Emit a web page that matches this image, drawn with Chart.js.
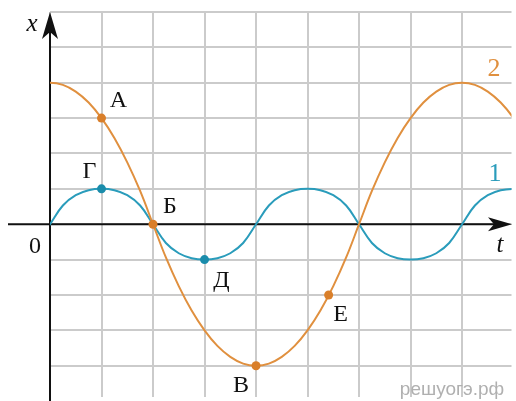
<!DOCTYPE html>
<html>
<head>
<meta charset="utf-8">
<script src="https://cdn.jsdelivr.net/npm/chart.js@4"></script>
<style>
  html, body { margin: 0; padding: 0; background: #fff; }
  canvas { display: block; }
</style>
</head>
<body>
<canvas id="oscChart" width="516" height="401"></canvas>
<script>
// time values (t), read at quarter-cell steps (one step past each edge)
const tValues = [-0.25, 0, 0.25, 0.5, 0.75, 1, 1.25, 1.5, 1.75, 2, 2.25, 2.5, 2.75, 3, 3.25, 3.5, 3.75,
  4, 4.25, 4.5, 4.75, 5, 5.25, 5.5, 5.75, 6, 6.25, 6.5, 6.75, 7, 7.25, 7.5, 7.75,
  8, 8.25, 8.5, 8.75, 9, 9.25];
// curve 1 (blue)
const curve1 = [-0.53, 0, 0.53, 0.82, 0.96, 1, 0.96, 0.82, 0.53, 0, -0.53, -0.82, -0.96, -1, -0.96, -0.82, -0.53,
  0, 0.53, 0.82, 0.96, 1, 0.96, 0.82, 0.53, 0, -0.53, -0.82, -0.96, -1, -0.96, -0.82, -0.53,
  0, 0.53, 0.82, 0.96, 1, 0.96];
// curve 2 (orange)
const curve2 = [3.94, 4, 3.94, 3.75, 3.44, 3.0, 2.44, 1.75, 0.94, 0, -0.94, -1.75, -2.44, -3.0, -3.44, -3.75, -3.94,
  -4, -3.94, -3.75, -3.44, -3.0, -2.44, -1.75, -0.94, 0, 0.94, 1.75, 2.44, 3.0, 3.44, 3.75, 3.94,
  4, 3.94, 3.75, 3.44, 3.0, 2.44];

// marked points
const orangeNames = ["А", "Б", "В", "Е"];
const orangeT = [1, 2, 4, 5.41];
const orangeX = [3.0, 0, -4, -2];
const blueNames = ["Г", "Д"];
const blueT = [1, 3];
const blueX = [1, -1];

const ORANGE = "#e0903f";
const ORANGE_DOT = "#d97f2a";
const BLUE = "#2a9cbb";
const BLUE_DOT = "#1a8cab";

const toXY = (ts, vs) => ts.map((t, i) => ({ x: t, y: vs[i] }));

function arrowHead(ctx, tipX, tipY, dir) {
  // dir: "up" or "right"
  ctx.beginPath();
  if (dir === "up") {
    ctx.moveTo(tipX, tipY);
    ctx.lineTo(tipX + 8, tipY + 27);
    ctx.lineTo(tipX, tipY + 20);
    ctx.lineTo(tipX - 8, tipY + 27);
  } else {
    ctx.moveTo(tipX, tipY);
    ctx.lineTo(tipX - 24, tipY + 7);
    ctx.lineTo(tipX - 18, tipY);
    ctx.lineTo(tipX - 24, tipY - 7);
  }
  ctx.closePath();
  ctx.fill();
}

const axesPlugin = {
  id: "axesPlugin",
  beforeDatasetsDraw(chart) {
    const { ctx, scales } = chart;
    const x0 = scales.x.getPixelForValue(0);
    const y0 = scales.y.getPixelForValue(0);
    ctx.save();
    ctx.strokeStyle = "#111";
    ctx.fillStyle = "#111";
    ctx.lineWidth = 2;
    ctx.beginPath();
    ctx.moveTo(x0, 401);
    ctx.lineTo(x0, 20);
    ctx.moveTo(8, y0);
    ctx.lineTo(504, y0);
    ctx.stroke();
    arrowHead(ctx, x0, 12, "up");
    arrowHead(ctx, 512, y0, "right");
    ctx.restore();
  },
  afterDatasetsDraw(chart) {
    const { ctx, scales } = chart;
    const px = (t) => scales.x.getPixelForValue(t);
    const py = (v) => scales.y.getPixelForValue(v);
    ctx.save();
    ctx.textAlign = "center";
    ctx.textBaseline = "middle";
    ctx.fillStyle = "#111";

    ctx.font = "italic 25px 'Liberation Serif', serif";
    ctx.fillText("x", 32, 24);
    ctx.fillText("t", 500, 245);

    ctx.font = "24px 'Liberation Serif', serif";
    ctx.fillText("0", 35, 247);

    // point names, offset from their marks
    const offsets = {
      "А": [17, -17], "Б": [17, -18], "В": [-15, 20], "Е": [12, 20],
      "Г": [-12, -17], "Д": [17, 21]
    };
    orangeNames.forEach((n, i) => {
      const o = offsets[n];
      ctx.fillText(n, px(orangeT[i]) + o[0], py(orangeX[i]) + o[1]);
    });
    blueNames.forEach((n, i) => {
      const o = offsets[n];
      ctx.fillText(n, px(blueT[i]) + o[0], py(blueX[i]) + o[1]);
    });

    ctx.font = "26px 'Liberation Serif', serif";
    ctx.fillStyle = ORANGE;
    ctx.fillText("2", 494, 69);
    ctx.fillStyle = BLUE;
    ctx.fillText("1", 495, 174);

    ctx.font = "19px 'Liberation Sans', sans-serif";
    ctx.fillStyle = "#b0b0b0";
    ctx.fillText("решуогэ.рф", 452, 390);
    ctx.restore();
  }
};

const gridColor = (c) => (Number.isInteger(c.tick.value) ? "#cbcbcb" : "rgba(0,0,0,0)");

new Chart(document.getElementById("oscChart"), {
  type: "line",
  data: {
    datasets: [
      {
        label: "orange points",
        data: toXY(orangeT, orangeX),
        showLine: false,
        pointRadius: 4.5,
        pointBorderWidth: 0,
        pointBackgroundColor: ORANGE_DOT,
        order: 0
      },
      {
        label: "blue points",
        data: toXY(blueT, blueX),
        showLine: false,
        pointRadius: 4.5,
        pointBorderWidth: 0,
        pointBackgroundColor: BLUE_DOT,
        order: 0
      },
      {
        label: "2",
        data: toXY(tValues, curve2),
        borderColor: ORANGE,
        borderWidth: 2,
        pointRadius: 0,
        tension: 0.4,
        order: 1
      },
      {
        label: "1",
        data: toXY(tValues, curve1),
        borderColor: BLUE,
        borderWidth: 2,
        pointRadius: 0,
        tension: 0.4,
        order: 2
      }
    ]
  },
  options: {
    responsive: false,
    animation: false,
    layout: { padding: { left: 50, top: 12, right: 0, bottom: 0 } },
    plugins: {
      legend: { display: false },
      tooltip: { enabled: false }
    },
    scales: {
      x: {
        type: "linear",
        min: 0,
        max: 8.96,
        ticks: { display: false, stepSize: 1 },
        grid: { color: gridColor, lineWidth: 2, drawTicks: false },
        border: { display: false },
        afterFit(scale) { scale.height = 0; }
      },
      y: {
        min: -4.87,
        max: 6,
        ticks: { display: false, stepSize: 1 },
        grid: { color: gridColor, lineWidth: 2, drawTicks: false },
        border: { display: false },
        afterFit(scale) { scale.width = 0; }
      }
    }
  },
  plugins: [axesPlugin]
});
</script>
</body>
</html>
